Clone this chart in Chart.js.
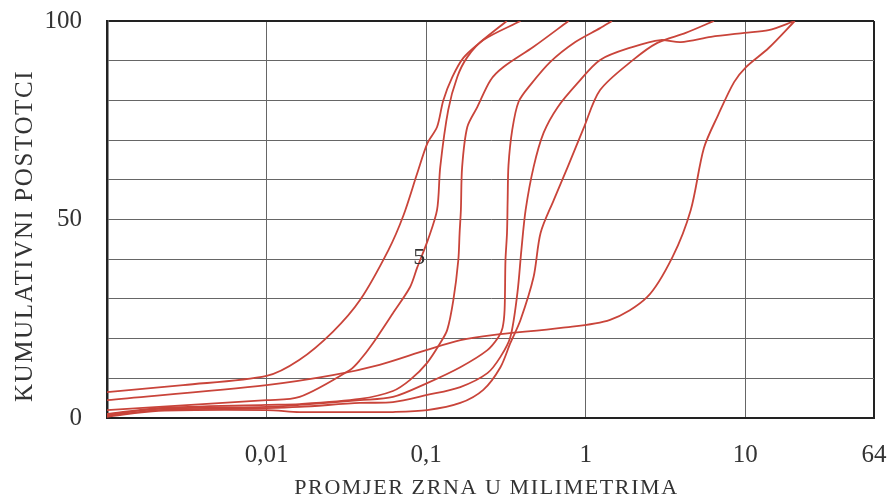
<!DOCTYPE html>
<html lang="hr">
<head>
    <meta charset="UTF-8">
    <title>Granulometrijske krivulje</title>
    <script src="https://cdn.jsdelivr.net/npm/chart.js"></script>
    <style>
        body { margin: 0; background: #fff; }
        canvas { display: block; }
    </style>
</head>
<body>
    <canvas id="chart" width="891" height="497"></canvas>

    <script>
        // Krivulje granulometrijskog sastava: promjer zrna (mm) i kumulativni postotak
        const c1Size = [0.001, 0.003, 0.01, 0.016, 0.026, 0.0385, 0.058, 0.072, 0.088, 0.102, 0.117, 0.128, 0.146, 0.171, 0.219, 0.32];
        const c1Pct  = [6.5, 8.3, 10.6, 14.6, 21.7, 29.7, 42.3, 51, 61.7, 69.3, 73.3, 80, 85.9, 90.7, 94.7, 100];

        const c2Size = [0.001, 0.01, 0.0161, 0.0333, 0.0385, 0.0465, 0.0619, 0.0793, 0.0877, 0.1024, 0.117, 0.1225, 0.1375, 0.1566, 0.181, 0.228, 0.39];
        const c2Pct  = [2, 4.5, 5.3, 12.1, 14.6, 18.9, 26.4, 33, 37.8, 44.8, 52.4, 63.2, 77.6, 85.9, 90.9, 95.2, 100];

        const c3Size = [0.001, 0.0021, 0.01, 0.0161, 0.0385, 0.0619, 0.0793, 0.1014, 0.1225, 0.1355, 0.148, 0.159, 0.162, 0.165, 0.168, 0.181, 0.209, 0.253, 0.305, 0.471, 0.78];
        const c3Pct  = [1, 2.5, 3.3, 3.5, 4.8, 6.8, 9.6, 13.9, 18.9, 22.2, 29.7, 39.8, 46.6, 52.4, 63.2, 73.3, 78.3, 85.1, 88.4, 93.5, 100];

        const c4Size = [0.001, 0.0021, 0.01, 0.0161, 0.0385, 0.0619, 0.1014, 0.1636, 0.242, 0.284, 0.301, 0.31, 0.314, 0.321, 0.324, 0.328, 0.346, 0.379, 0.45, 0.6, 0.86, 1.23, 1.46];
        const c4Pct  = [0.8, 2.3, 2.8, 3.3, 4.5, 5.3, 8.8, 12.8, 17.1, 20.4, 22.7, 27.2, 39.8, 46.6, 54.9, 63.7, 72.5, 79.6, 83.9, 89.7, 94.7, 98.2, 100];

        const c5Size = [0.001, 0.0021, 0.01, 0.0161, 0.0385, 0.0619, 0.1014, 0.1636, 0.242, 0.292, 0.337, 0.373, 0.395, 0.42, 0.471, 0.544, 0.667, 0.891, 1.23, 1.98, 2.94, 3.94, 6.09, 9.86, 14, 20.4];
        const c5Pct  = [0.5, 2, 2.5, 2.8, 3.8, 4, 5.8, 7.8, 11.3, 15.4, 20.4, 31.5, 42.3, 52.4, 63.2, 71.8, 78.3, 84.4, 90.2, 93.5, 95.2, 94.7, 96, 97, 97.7, 100];

        const c6Size = [0.001, 0.0021, 0.01, 0.0161, 0.0385, 0.0619, 0.1014, 0.1636, 0.228, 0.292, 0.337, 0.39, 0.471, 0.521, 0.63, 0.77, 0.97, 1.23, 1.98, 2.81, 4.23, 6.36];
        const c6Pct  = [0.3, 1.8, 2, 1.5, 1.5, 1.5, 2, 3.8, 7.1, 12.8, 18.9, 24.7, 35.5, 46.6, 54.9, 63.2, 73, 82.6, 90.2, 94.5, 97, 100];

        const c7Size = [0.001, 0.01, 0.026, 0.051, 0.1, 0.164, 0.26, 0.7, 1.42, 2.43, 3.5, 4.55, 5.5, 6.75, 8.5, 10.1, 14, 20.4];
        const c7Pct  = [4.5, 8.3, 10.8, 13.4, 17.1, 19.6, 20.9, 22.7, 24.7, 30.5, 40.6, 52.4, 68, 76.3, 84.6, 88.4, 93.2, 100];

        // Oznake osi
        const xTickValues = [0.001, 0.01, 0.1, 1, 10, 64];
        const xTickLabels = ['', '0,01', '0,1', '1', '10', '64'];
        const yTickLabels = [0, 50, 100];
        const xTitle = 'PROMJER ZRNA U MILIMETRIMA';
        const yTitle = 'KUMULATIVNI POSTOTCI';
        const curveLabel = { text: '5', size: 0.0905, pct: 40.5 };

        const curves = [
            [c1Size, c1Pct], [c2Size, c2Pct], [c3Size, c3Pct], [c4Size, c4Pct],
            [c5Size, c5Pct], [c6Size, c6Pct], [c7Size, c7Pct]
        ];

        const lineColor = '#c9443a';
        const textColor = '#333';
        const serif = '"Liberation Serif", "Times New Roman", serif';

        const datasets = curves.map(([sizes, pcts], i) => ({
            label: 'krivulja ' + (i + 1),
            data: sizes.map((s, k) => ({ x: s, y: pcts[k] })),
            borderColor: lineColor,
            borderWidth: 1.8,
            pointRadius: 0,
            tension: 0.3,
            fill: false
        }));

        // Naslovi osi i oznaka krivulje
        const labelsPlugin = {
            id: 'labelsPlugin',
            afterDraw(chart) {
                const { ctx, chartArea, scales } = chart;
                ctx.save();
                ctx.fillStyle = textColor;
                ctx.textAlign = 'center';

                ctx.font = '22px ' + serif;
                ctx.letterSpacing = '1.6px';
                ctx.textBaseline = 'alphabetic';
                ctx.fillText(xTitle, (chartArea.left + chartArea.right) / 2 - 4, 494);

                ctx.font = '24px ' + serif;
                ctx.letterSpacing = '0px';
                ctx.textBaseline = 'middle';
                ctx.fillText(curveLabel.text,
                    scales.x.getPixelForValue(curveLabel.size),
                    scales.y.getPixelForValue(curveLabel.pct));

                ctx.translate(32, 236);
                ctx.rotate(-Math.PI / 2);
                ctx.font = '25px ' + serif;
                ctx.letterSpacing = '1.6px';
                ctx.textBaseline = 'alphabetic';
                ctx.fillText(yTitle, 0, 0);
                ctx.restore();
            }
        };

        // tick padding otherwise gets added to the label overflow around the plot
        function noOverflow(scale) {
            scale.paddingTop = 0;
            scale.paddingBottom = 0;
            scale.paddingLeft = 0;
            scale.paddingRight = 0;
        }

        new Chart(document.getElementById('chart'), {
            type: 'line',
            data: { datasets },
            plugins: [labelsPlugin],
            options: {
                responsive: false,
                animation: false,
                layout: { padding: { top: 21, right: 17, left: 0, bottom: 0 } },
                plugins: {
                    legend: { display: false },
                    tooltip: { enabled: false }
                },
                scales: {
                    x: {
                        type: 'logarithmic',
                        min: 0.001,
                        max: 64,
                        afterBuildTicks: (scale) => {
                            scale.ticks = xTickValues.map(v => ({ value: v }));
                        },
                        afterFit: (scale) => { scale.height = 79; noOverflow(scale); },
                        ticks: {
                            autoSkip: false,
                            maxRotation: 0,
                            padding: 22,
                            color: textColor,
                            font: { family: serif, size: 25 },
                            callback: (v) => {
                                const i = xTickValues.indexOf(v);
                                return i >= 0 ? xTickLabels[i] : '';
                            }
                        },
                        grid: {
                            drawTicks: false,
                            color: (c) => (c.tick && c.tick.value === 64) ? '#222' : '#666',
                            lineWidth: (c) => (c.tick && c.tick.value === 64) ? 2 : 1
                        },
                        border: { color: '#222', width: 2 }
                    },
                    y: {
                        min: 0,
                        max: 100,
                        afterFit: (scale) => { scale.width = 107; noOverflow(scale); },
                        ticks: {
                            stepSize: 10,
                            padding: 25,
                            color: textColor,
                            font: { family: serif, size: 25 },
                            callback: (v) => yTickLabels.includes(v) ? String(v) : ''
                        },
                        grid: {
                            drawTicks: false,
                            color: (c) => (c.tick && c.tick.value === 100) ? '#222' : '#666',
                            lineWidth: (c) => (c.tick && c.tick.value === 100) ? 2 : 1
                        },
                        border: { color: '#222', width: 2.5 }
                    }
                }
            }
        });
    </script>
</body>
</html>
